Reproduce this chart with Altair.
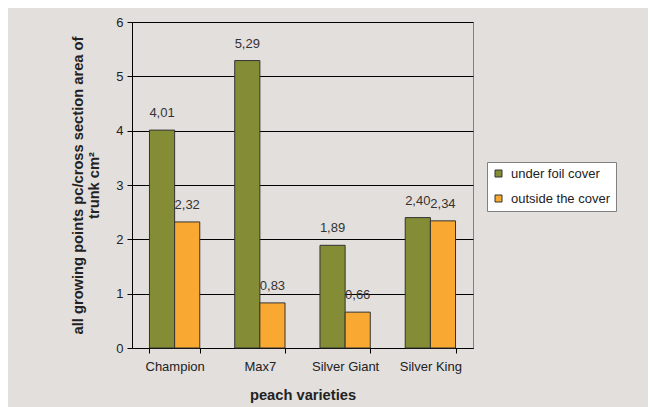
import altair as alt
import pandas as pd

varieties = ["Champion", "Max7", "Silver Giant", "Silver King"]
series_names = ["under foil cover", "outside the cover"]
under_foil = [4.01, 5.29, 1.89, 2.40]
outside_cover = [2.32, 0.83, 0.66, 2.34]
colors = ["#848c36", "#f9a932"]
y_ticks = [0, 1, 2, 3, 4, 5, 6]

rows = []
for i, v in enumerate(varieties):
    for s, vals in zip(series_names, [under_foil, outside_cover]):
        rows.append({"variety": v, "series": s, "value": vals[i],
                     "label": f"{vals[i]:.2f}".replace(".", ",")})
df = pd.DataFrame(rows)

FONT = "Liberation Sans"

x = alt.X("variety:N", sort=varieties,
          scale=alt.Scale(paddingInner=0.41, paddingOuter=0.205),
          axis=alt.Axis(title="peach varieties", labelAngle=0, tickBand="extent",
                        tickSize=5, labelPadding=7, titlePadding=14,
                        labelFontSize=13, titleFontSize=14.7, titleFontWeight="bold"))
y = alt.Y("value:Q", scale=alt.Scale(domain=[0, 6], nice=False),
          axis=alt.Axis(values=y_ticks, title=["all growing points pc/cross section area of", "trunk cm\u00b2"],
                        tickSize=5, labelPadding=4, titlePadding=14, grid=True,
                        labelFontSize=13, titleFontSize=14.7, titleFontWeight="bold",
                        titleLineHeight=16))
xo = alt.XOffset("series:N", sort=series_names, scale=alt.Scale(paddingInner=0, paddingOuter=0))

bars = alt.Chart(df).mark_bar(stroke="#333333", strokeWidth=1).encode(
    x=x, y=y, xOffset=xo,
    color=alt.Color("series:N", sort=series_names,
                    scale=alt.Scale(domain=series_names, range=colors),
                    legend=alt.Legend(title=None, orient="none", legendX=355, legendY=140,
                                      fillColor="white", strokeColor="#808080", padding=5,
                                      labelFontSize=13, symbolType="square", symbolSize=49,
                                      symbolStrokeColor="#333333", symbolStrokeWidth=1,
                                      rowPadding=11, labelOffset=6)),
)

labels = alt.Chart(df).mark_text(baseline="alphabetic", dy=-13, fontSize=13,
                                 color="#333333", font=FONT).encode(
    x=x, y=y, xOffset=xo, text="label:N")

chart = (bars + labels).properties(
    width=341, height=326,
    autosize=alt.AutoSizeParams(type="none"),
    padding={"left": 124, "top": 14, "right": 175, "bottom": 62},
    background="#e3dfdd",
).configure_view(
    stroke="#808080", strokeWidth=1, fill="#e3dfdd"
).configure_axis(
    labelFont=FONT, titleFont=FONT, labelColor="#222222", titleColor="#222222",
    domainColor="#000000", tickColor="#000000", gridColor="#000000", gridWidth=1,
    domainWidth=1,
).configure_legend(
    labelFont=FONT, labelColor="#222222"
)

chart.save("out.html", embed_options={"renderer": "svg", "actions": False})
